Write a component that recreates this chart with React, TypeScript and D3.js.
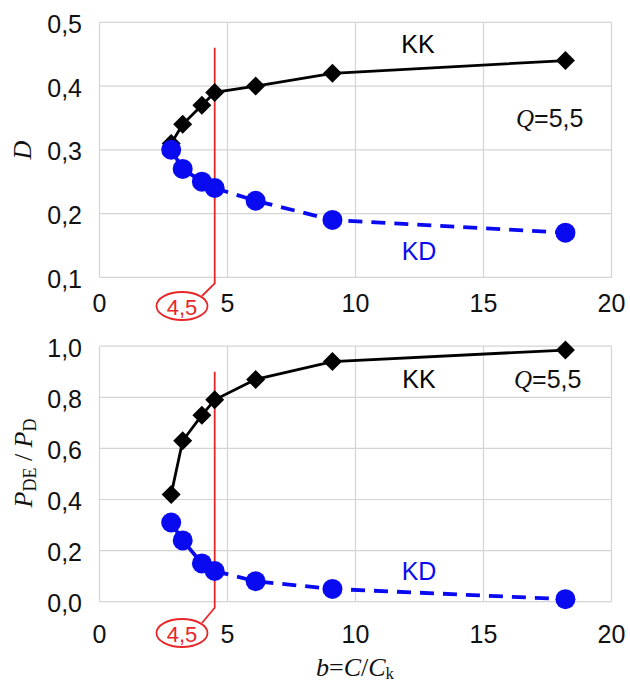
import React from "react";
import * as d3 from "d3";

const bValues = [2.8, 3.25, 4.0, 4.5, 6.1, 9.1, 18.2];
const topKK = [0.31, 0.34, 0.37, 0.39, 0.40, 0.42, 0.44];
const topKD = [0.30, 0.27, 0.25, 0.24, 0.22, 0.19, 0.17];
const botKK = [0.42, 0.63, 0.73, 0.79, 0.87, 0.94, 0.985];
const botKD = [0.31, 0.24, 0.15, 0.12, 0.08, 0.05, 0.01];
const xTicks = [0, 5, 10, 15, 20];
const topYTicks = [0.1, 0.2, 0.3, 0.4, 0.5];
const botYTicks = [0, 0.2, 0.4, 0.6, 0.8, 1.0];
const markerB = 4.5;

const SANS = "'Liberation Sans', Arial, sans-serif";
const SERIF = "'Liberation Serif', 'Times New Roman', serif";
const BLUE = "#0a0af0";
const RED = "#e8262a";
const GRID = "#d4d4d4";
const FS = 25;

const fmt = (v: number, d: number) => v.toFixed(d).replace(".", ",");

type PanelProps = {
  yDomain: [number, number];
  yRange: [number, number];
  yTicks: number[];
  yDec: number;
  kk: number[];
  kd: number[];
  redTop: number;
  ellipseY: number;
  xLabelY: number;
  kkLabel: [number, number];
  qLabel: [number, number];
  kdLabel: [number, number];
};

const x = d3.scaleLinear().domain([0, 20]).range([99.5, 611.5]);

function Panel(p: PanelProps) {
  const y = d3.scaleLinear().domain(p.yDomain).range(p.yRange);
  const [y0, y1] = p.yRange; // bottom, top
  const kkPts = bValues.map((b, i) => [x(b), y(p.kk[i])] as [number, number]);
  const kdPts = bValues.map((b, i) => [x(b), y(p.kd[i])] as [number, number]);
  const line = d3.line();
  const rx = x(markerB);
  const ex = 182;
  const dm = 9.5;
  return (
    <g>
      {xTicks.map((t) => (
        <line key={"gx" + t} x1={x(t)} x2={x(t)} y1={y0} y2={y1} stroke={GRID} strokeWidth={1.2} />
      ))}
      {p.yTicks.map((t) => (
        <line key={"gy" + t} x1={x(0)} x2={x(20)} y1={y(t)} y2={y(t)} stroke={GRID} strokeWidth={1.2} />
      ))}
      {p.yTicks.map((t) => (
        <text key={"ty" + t} x={82} y={y(t) + 1.5} textAnchor="end" dominantBaseline="central"
          fontFamily={SANS} fontSize={FS} fill="#111">{fmt(t, p.yDec)}</text>
      ))}
      {xTicks.map((t) => (
        <text key={"tx" + t} x={x(t)} y={p.xLabelY} textAnchor="middle"
          fontFamily={SANS} fontSize={FS} fill="#111">{t}</text>
      ))}
      <path d={`M${rx},${y(p.redTop)} L${rx},${y0 + 6} L${ex + 20},${p.ellipseY - 10}`}
        fill="none" stroke={RED} strokeWidth={1.8} />
      <ellipse cx={ex} cy={p.ellipseY} rx={25.5} ry={14} fill="none" stroke={RED} strokeWidth={1.8} />
      <text x={ex} y={p.ellipseY + 1} textAnchor="middle" dominantBaseline="central"
        fontFamily={SANS} fontSize={22} fill={RED}>{fmt(markerB, 1)}</text>
      <path d={line(kkPts) || ""} fill="none" stroke="#000" strokeWidth={2.8} />
      {kkPts.map(([px, py], i) => (
        <path key={"kk" + i} d={`M${px},${py - dm} L${px + dm},${py} L${px},${py + dm} L${px - dm},${py} Z`} fill="#000" />
      ))}
      <path d={line(kdPts.slice(0, 4)) || ""} fill="none" stroke={BLUE} strokeWidth={3.8} />
      <path d={line(kdPts.slice(3)) || ""} fill="none" stroke={BLUE} strokeWidth={3.8} strokeDasharray="14,9" />
      {kdPts.map(([px, py], i) => (
        <circle key={"kd" + i} cx={px} cy={py} r={10} fill={BLUE} />
      ))}
      <text x={p.kkLabel[0]} y={p.kkLabel[1]} textAnchor="middle" fontFamily={SANS} fontSize={FS} fill="#000">KK</text>
      <text x={p.kdLabel[0]} y={p.kdLabel[1]} textAnchor="middle" fontFamily={SANS} fontSize={FS} fill={BLUE}>KD</text>
      <text x={p.qLabel[0]} y={p.qLabel[1]} fontSize={FS} fill="#111">
        <tspan fontFamily={SERIF} fontStyle="italic">Q</tspan>
        <tspan fontFamily={SANS}>=5,5</tspan>
      </text>
    </g>
  );
}

export default function App() {
  return (
    <svg width={630} height={684} style={{ position: "absolute", left: 0, top: 0, background: "#fff" }}>
      <Panel yDomain={[0.1, 0.5]} yRange={[277.3, 22.3]} yTicks={topYTicks} yDec={1}
        kk={topKK} kd={topKD} redTop={0.46} ellipseY={306} xLabelY={312}
        kkLabel={[418, 53]} qLabel={[516, 127]} kdLabel={[419, 260]} />
      <Panel yDomain={[0, 1]} yRange={[601.7, 346.2]} yTicks={botYTicks} yDec={1}
        kk={botKK} kd={botKD} redTop={0.9} ellipseY={633} xLabelY={643}
        kkLabel={[419, 388]} qLabel={[514, 388]} kdLabel={[419, 580]} />
      <text transform="translate(31,150) rotate(-90)" textAnchor="middle" fontFamily={SERIF}
        fontStyle="italic" fontSize={26} fill="#111">D</text>
      <text transform="translate(32,463) rotate(-90)" textAnchor="middle" fontFamily={SERIF} fontSize={26} fill="#111">
        <tspan fontStyle="italic">P</tspan>
        <tspan fontSize={18} dy={4}>DE</tspan>
        <tspan dy={-4}> / </tspan>
        <tspan fontStyle="italic">P</tspan>
        <tspan fontSize={18} dy={4}>D</tspan>
      </text>
      <text x={355} y={676} textAnchor="middle" fontFamily={SERIF} fontSize={26} fill="#111">
        <tspan fontStyle="italic">b</tspan>
        <tspan>=</tspan>
        <tspan fontStyle="italic">C</tspan>
        <tspan>/</tspan>
        <tspan fontStyle="italic">C</tspan>
        <tspan fontSize={17} dy={3}>k</tspan>
      </text>
    </svg>
  );
}
